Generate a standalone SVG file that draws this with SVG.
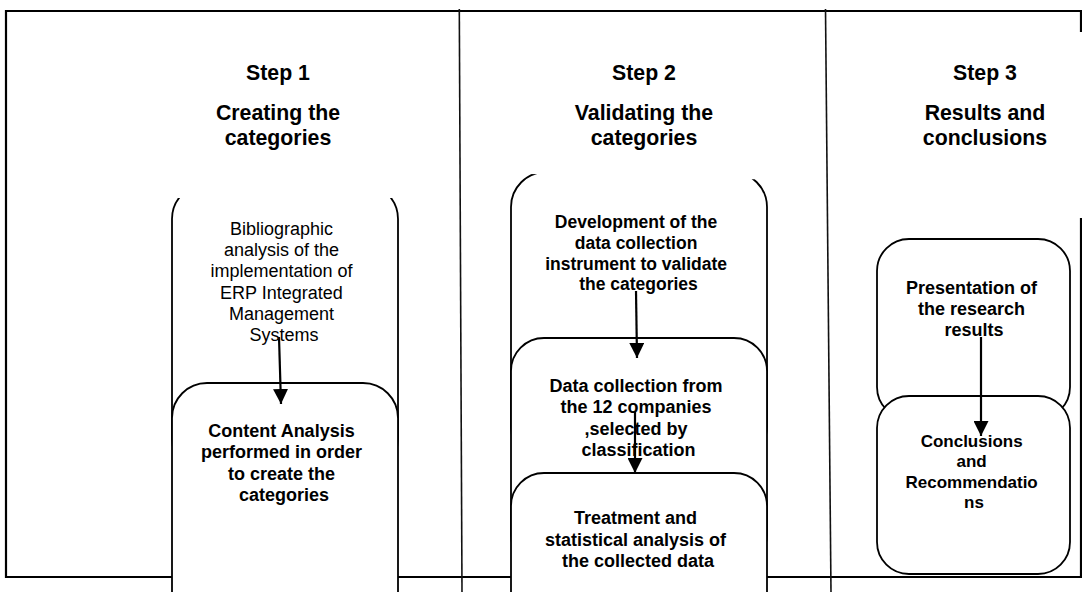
<svg xmlns="http://www.w3.org/2000/svg" width="1082" height="592" viewBox="0 0 1082 592">
  <style>
    .frame { fill: none; stroke: #000; stroke-width: 2.2; }
    .divider { fill: none; stroke: #111; stroke-width: 1.6; }
    .box { fill: #fff; stroke: #000; stroke-width: 1.8; }
    .head { font-family: "Liberation Sans", Arial, sans-serif; font-weight: bold; font-size: 21.3px; text-anchor: middle; fill: #000; }
    .txt { font-family: "Liberation Sans", Arial, sans-serif; font-size: 18px; text-anchor: middle; fill: #000; }
    .b { font-weight: bold; }
    .conn { fill: none; stroke: #000; stroke-width: 2.2; }
  </style>
  <defs>
    <marker id="arrow" viewBox="0 0 10 10" refX="10" refY="5" markerUnits="userSpaceOnUse" markerWidth="15" markerHeight="15" orient="auto">
      <path d="M0,0 L10,5 L0,10 z" fill="#000"/>
    </marker>
    <clipPath id="clipA"><rect x="150" y="198" width="270" height="300"/></clipPath>
    <clipPath id="clipC"><polygon points="490,173 790,180 790,500 490,500"/></clipPath>
  </defs>

  <rect width="1082" height="592" fill="#fff"/>

  <!-- outer frame -->
  <g id="frame">
    <polyline class="frame" points="1081,32 1081,11 6,11 6,577 1081,577 1081,218"/>
  </g>

  <!-- step headings -->
  <g id="step1-head">
    <text class="head" x="278" y="80">Step 1</text>
    <text class="head" x="278" y="120">Creating the</text>
    <text class="head" x="278" y="145">categories</text>
  </g>
  <g id="step2-head">
    <text class="head" x="644" y="80">Step 2</text>
    <text class="head" x="644" y="120">Validating the</text>
    <text class="head" x="644" y="145">categories</text>
  </g>
  <g id="step3-head">
    <text class="head" x="985" y="80">Step 3</text>
    <text class="head" x="985" y="120">Results and</text>
    <text class="head" x="985" y="145">conclusions</text>
  </g>

  <!-- step 1 -->
  <g id="bibliographic">
    <rect class="box" x="172" y="184" width="226" height="290" rx="35" clip-path="url(#clipA)"/>
    <text class="txt" x="284">
      <tspan x="284" y="235">Bibliographic</tspan>
      <tspan x="284" y="256.2">analysis of the</tspan>
      <tspan x="284" y="277.4">implementation of</tspan>
      <tspan x="284" y="298.6">ERP Integrated</tspan>
      <tspan x="284" y="319.8">Management</tspan>
      <tspan x="284" y="341">Systems</tspan>
    </text>
  </g>
  <g id="content-analysis">
    <rect class="box" x="172" y="383" width="226" height="260" rx="35"/>
    <text class="txt b" x="284">
      <tspan x="284" y="437">Content Analysis</tspan>
      <tspan x="284" y="458.3">performed in order</tspan>
      <tspan x="284" y="479.6">to create the</tspan>
      <tspan x="284" y="501">categories</tspan>
    </text>
  </g>

  <!-- step 2 -->
  <g id="instrument">
    <rect class="box" x="511" y="172" width="256" height="290" rx="35" clip-path="url(#clipC)"/>
    <text class="txt b" x="638.5" style="font-size:17.5px">
      <tspan x="638.5" y="228">Development of the</tspan>
      <tspan x="638.5" y="249">data collection</tspan>
      <tspan x="638.5" y="270">instrument to validate</tspan>
      <tspan x="638.5" y="290">the categories</tspan>
    </text>
  </g>
  <g id="data-collection">
    <rect class="box" x="511" y="338" width="256" height="230" rx="33"/>
    <text class="txt b" x="638.5">
      <tspan x="638.5" y="392">Data collection from</tspan>
      <tspan x="638.5" y="413.3">the 12 companies</tspan>
      <tspan x="638.5" y="434.6">,selected by</tspan>
      <tspan x="638.5" y="456">classification</tspan>
    </text>
  </g>
  <g id="treatment">
    <rect class="box" x="511" y="473" width="256" height="180" rx="33"/>
    <text class="txt b" x="638">
      <tspan x="638" y="524">Treatment and</tspan>
      <tspan x="638" y="545.5">statistical analysis of</tspan>
      <tspan x="638" y="567">the collected data</tspan>
    </text>
  </g>

  <!-- step 3 -->
  <g id="presentation">
    <rect class="box" x="877" y="239" width="193" height="180" rx="32"/>
    <text class="txt b" x="974">
      <tspan x="974" y="294">Presentation of</tspan>
      <tspan x="974" y="315">the research</tspan>
      <tspan x="974" y="336">results</tspan>
    </text>
  </g>
  <g id="conclusions">
    <rect class="box" x="877" y="396" width="193" height="178" rx="32"/>
    <text class="txt b" x="974" style="font-size:17px">
      <tspan x="974" y="447">Conclusions</tspan>
      <tspan x="974" y="467.3">and</tspan>
      <tspan x="974" y="487.6">Recommendatio</tspan>
      <tspan x="974" y="508">ns</tspan>
    </text>
  </g>

  <!-- column dividers -->
  <g id="dividers">
    <line class="divider" x1="459.3" y1="9" x2="462" y2="592"/>
    <line class="divider" x1="825.5" y1="9" x2="831" y2="592"/>
  </g>

  <!-- connectors -->
  <g id="connectors">
    <line class="conn" x1="279" y1="337" x2="281" y2="404" marker-end="url(#arrow)"/>
    <line class="conn" x1="636" y1="291" x2="637" y2="358" marker-end="url(#arrow)"/>
    <line class="conn" x1="635" y1="411" x2="635" y2="473" marker-end="url(#arrow)"/>
    <line class="conn" x1="981" y1="337" x2="981" y2="436" marker-end="url(#arrow)"/>
  </g>
</svg>
